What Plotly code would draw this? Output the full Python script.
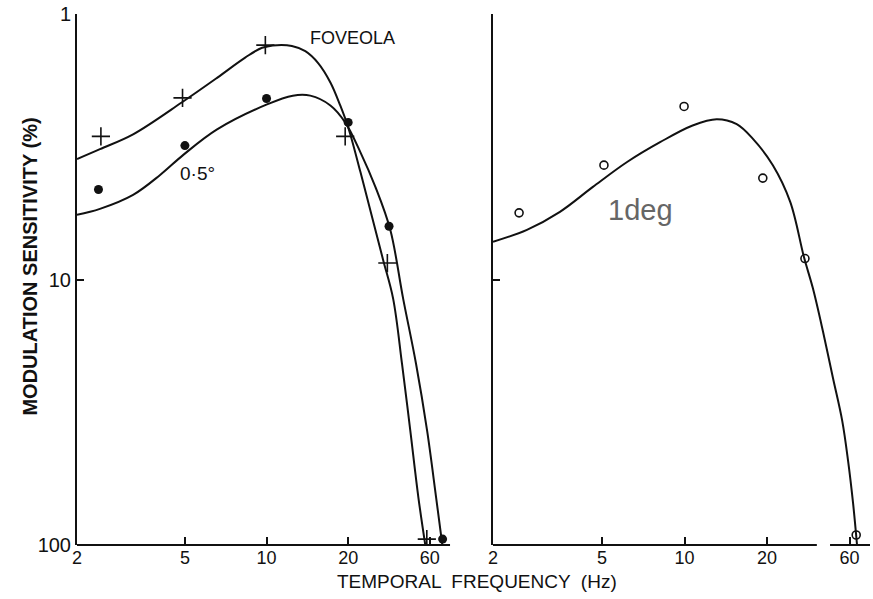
import math
import plotly.graph_objects as go

# ---- data (frequency in Hz on the drawn log axis; the "60" label sits at 40 on the broken axis)
fov_pts_f = [2.45, 4.9, 9.9, 19.5, 27.9, 39.0]
fov_pts_s = [2.89, 2.07, 1.31, 2.89, 8.67, 95.0]

half_pts_f = [2.4, 5.0, 10.0, 20.0, 28.3, 44.6]
half_pts_s = [4.58, 3.13, 2.08, 2.56, 6.3, 95.0]

fov_curve_f = [2.00, 2.43, 3.22, 4.88, 6.57, 8.34, 9.63, 10.94, 12.4, 13.9, 15.5, 17.2, 18.7, 20.0,
               22.2, 24.5, 26.9, 29.3, 31.6, 33.9, 36.3, 38.5]
fov_curve_s = [3.52, 3.23, 2.84, 2.15, 1.74, 1.46, 1.34, 1.31, 1.32, 1.38, 1.53, 1.81, 2.21, 2.67,
               3.94, 5.81, 8.42, 11.8, 20.8, 37.1, 66.1, 100.0]

half_curve_f = [2.00, 2.43, 3.22, 4.05, 4.92, 6.57, 10.04, 12.5, 14.5, 17.2, 19.5, 22.2, 25.2, 28.6,
                31.9, 35.6, 39.1, 42.2, 44.5]
half_curve_s = [5.71, 5.42, 4.80, 4.04, 3.40, 2.72, 2.19, 2.03, 2.03, 2.21, 2.56, 3.32, 4.48, 6.50,
                11.8, 20.8, 37.1, 66.1, 100.0]

deg1_pts_f = [2.49, 5.08, 9.96, 19.3, 27.5, 42.3]
deg1_pts_s = [5.61, 3.71, 2.23, 4.15, 8.34, 91.7]

deg1_curve_f = [2.00, 2.66, 3.51, 4.63, 6.17, 8.14, 10.7, 13.1, 15.5, 17.8, 21.0, 24.3, 27.3, 29.4,
                32.0, 34.8, 37.6, 39.5, 41.2, 42.6]
deg1_curve_s = [7.21, 6.50, 5.56, 4.48, 3.61, 3.04, 2.63, 2.49, 2.60, 2.96, 3.71, 5.10, 8.27, 10.8,
                15.7, 23.5, 34.0, 48.1, 69.6, 100.0]

x_tickvals = [2, 5, 10, 20, 40]
x_ticktext = ["2", "5", "10", "20", "60"]
y_tickvals = [1, 10, 100]
y_ticktext = ["1", "10", "100"]

FONT = "Liberation Sans, Arial, sans-serif"
BLACK = "#111111"

fig = go.Figure()

line_style = dict(color=BLACK, width=2, shape="spline", smoothing=1.0)

fig.add_trace(go.Scatter(x=fov_curve_f, y=fov_curve_s, mode="lines", line=line_style,
                         xaxis="x", yaxis="y", showlegend=False, hoverinfo="skip"))
fig.add_trace(go.Scatter(x=half_curve_f, y=half_curve_s, mode="lines", line=line_style,
                         xaxis="x", yaxis="y", showlegend=False, hoverinfo="skip"))
fig.add_trace(go.Scatter(x=fov_pts_f, y=fov_pts_s, mode="markers",
                         marker=dict(symbol="cross-thin", size=13, line=dict(color=BLACK, width=1.6)),
                         xaxis="x", yaxis="y", showlegend=False))
fig.add_trace(go.Scatter(x=half_pts_f, y=half_pts_s, mode="markers",
                         marker=dict(symbol="circle", size=9, color=BLACK),
                         xaxis="x", yaxis="y", showlegend=False))

fig.add_trace(go.Scatter(x=deg1_curve_f, y=deg1_curve_s, mode="lines", line=line_style,
                         xaxis="x2", yaxis="y2", showlegend=False, hoverinfo="skip"))
fig.add_trace(go.Scatter(x=deg1_pts_f, y=deg1_pts_s, mode="markers",
                         marker=dict(symbol="circle-open", size=8, color=BLACK, line=dict(color=BLACK, width=1.6)),
                         xaxis="x2", yaxis="y2", showlegend=False))

xr = [math.log10(2), math.log10(47.5)]
yr = [2, 0]

common_x = dict(type="log", range=xr, tickvals=x_tickvals, ticktext=x_ticktext,
                ticks="inside", ticklen=8, tickwidth=1.5, tickcolor=BLACK,
                showline=False, showgrid=False, zeroline=False,
                tickfont=dict(family=FONT, size=18, color=BLACK))
common_y = dict(type="log", range=yr, tickvals=y_tickvals,
                ticks="inside", ticklen=7, tickwidth=1.5, tickcolor=BLACK,
                showline=True, linecolor=BLACK, linewidth=2, showgrid=False, zeroline=False,
                tickfont=dict(family=FONT, size=20, color=BLACK))

W, H = 873, 599
pl, pr, pt, pb = 77, 3, 11, 54
pw, ph = W - pl - pr, H - pt - pb

fig.update_layout(
    width=W, height=H,
    margin=dict(l=pl, r=pr, t=pt, b=pb),
    paper_bgcolor="white", plot_bgcolor="white",
    xaxis=dict(domain=[0, 0.4704], anchor="y", **common_x),
    xaxis2=dict(domain=[0.5246, 1], anchor="y2", **common_x),
    yaxis=dict(anchor="x", ticktext=y_ticktext, **common_y),
    yaxis2=dict(anchor="x2", showticklabels=False, **common_y),
    font=dict(family=FONT, color=BLACK),
)

# bottom axis lines (right one broken before the 60 mark)
fig.add_shape(type="line", xref="x domain", yref="y domain", x0=0, x1=1, y0=0, y1=0,
              line=dict(color=BLACK, width=2))
fig.add_shape(type="line", xref="x2 domain", yref="y2 domain", x0=0, x1=0.859, y0=0, y1=0,
              line=dict(color=BLACK, width=2))
fig.add_shape(type="line", xref="x2 domain", yref="y2 domain", x0=0.894, x1=1, y0=0, y1=0,
              line=dict(color=BLACK, width=2))

fig.add_annotation(text="FOVEOLA", x=math.log10(20.8), y=math.log10(1.23), xref="x", yref="y",
                   showarrow=False, font=dict(family=FONT, size=18, color=BLACK))
fig.add_annotation(text="0·5°", x=math.log10(5.55), y=math.log10(4.0), xref="x", yref="y",
                   showarrow=False, font=dict(family=FONT, size=19, color=BLACK))
fig.add_annotation(text="1deg", x=math.log10(6.88), y=math.log10(5.45), xref="x2", yref="y2",
                   showarrow=False, font=dict(family=FONT, size=29, color="#666666"))


def px(x, y):
    return (x - pl) / pw, 1 - (y - pt) / ph


ax, ay = px(30, 265)
fig.add_annotation(text="<b>MODULATION SENSITIVITY (%)</b>", x=ax, y=ay, xref="paper", yref="paper",
                   xanchor="center", yanchor="middle",
                   showarrow=False, textangle=-90, font=dict(family=FONT, size=20, color=BLACK))
bx, by = px(477, 582)
fig.add_annotation(text="TEMPORAL  FREQUENCY  (Hz)", x=bx, y=by, xref="paper", yref="paper",
                   xanchor="center", yanchor="middle",
                   showarrow=False, font=dict(family=FONT, size=19, color=BLACK))

fig.write_html("out.html")
